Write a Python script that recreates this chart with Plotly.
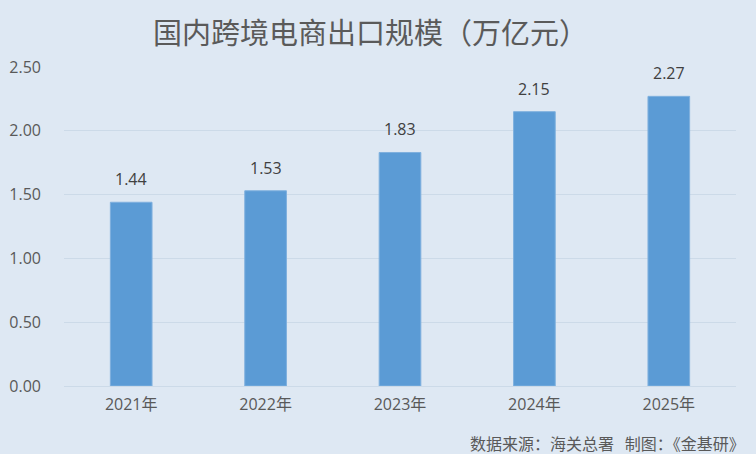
import plotly.graph_objects as go

years = ["2021年", "2022年", "2023年", "2024年", "2025年"]
export_scale = [1.44, 1.53, 1.83, 2.15, 2.27]
y_ticks = [0.0, 0.5, 1.0, 1.5, 2.0, 2.5]

BG = "#DEE8F3"
FONT = "Open Sans, Noto Sans CJK SC"
CJK = "Noto Sans CJK SC"

fig = go.Figure(go.Bar(
    x=years, y=export_scale,
    marker=dict(color="#5B9BD5", line=dict(color="#7FB0DE", width=1)),
    hoverinfo="x+y",
))

# value labels above each bar
for yr, v in zip(years, export_scale):
    fig.add_annotation(x=yr, y=v, text=f"{v:.2f}", showarrow=False,
                       yanchor="bottom", yshift=10,
                       font=dict(family=FONT, size=16, color="#404040"))

fig.add_annotation(text="数据来源：海关总署   制图：《金基研》", xref="paper", yref="paper",
                   x=1.017, y=-0.178, xanchor="right", yanchor="middle", showarrow=False,
                   font=dict(family=CJK, size=16, color="#595959"))

fig.update_layout(
    width=756, height=454,
    paper_bgcolor=BG, plot_bgcolor=BG,
    margin=dict(l=64, r=20, t=67, b=68, autoexpand=False),
    bargap=0.69,
    showlegend=False,
    font=dict(family=FONT, color="#595959"),
    title=dict(text="国内跨境电商出口规模（万亿元）", x=0.49, xanchor="center",
               y=0.925, yanchor="middle",
               font=dict(family=CJK, size=29, color="#5A5A5A")),
)
fig.update_yaxes(range=[0, 2.5], tickvals=y_ticks, tickformat=".2f",
                 showgrid=True, gridcolor="#CCDAE8", gridwidth=1,
                 zeroline=False, showline=False, ticks="", ticklabelstandoff=22,
                 tickfont=dict(family=FONT, size=16, color="#595959"))
fig.update_xaxes(showline=True, linecolor="#CCDAE8", linewidth=1, ticks="",
                 ticklabelstandoff=4,
                 tickfont=dict(family=FONT, size=16, color="#595959"))

fig.write_html("out.html", config={"displayModeBar": False},
               post_script="document.body.style.margin='0';")
